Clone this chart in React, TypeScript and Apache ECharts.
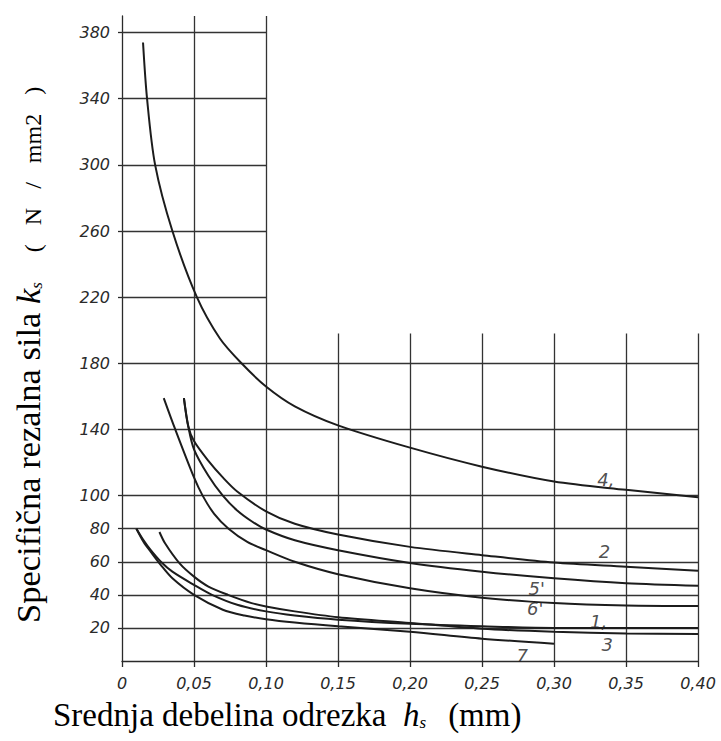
import React, { useEffect, useRef } from "react";
import * as echarts from "echarts";

// ---- data ----
const xTickValues = [0, 0.05, 0.1, 0.15, 0.2, 0.25, 0.3, 0.35, 0.4];
const xTickLabels = ["0", "0,05", "0,10", "0,15", "0,20", "0,25", "0,30", "0,35", "0,40"];
const yTickValues = [20, 40, 60, 80, 100, 140, 180, 220, 260, 300, 340, 380];
const yTickLabels = ["20", "40", "60", "80", "100", "140", "180", "220", "260", "300", "340", "380"];

const curve4X = [0.0146, 0.0174, 0.023, 0.035, 0.052, 0.068, 0.083, 0.1, 0.12, 0.15, 0.2, 0.25, 0.3, 0.35, 0.4];
const curve4Y = [374, 340, 300, 260, 220, 195, 180, 166, 154, 142.5, 129, 117.5, 108.5, 103.5, 99];

const curve2X = [0.043, 0.046, 0.05, 0.06, 0.07, 0.08, 0.1, 0.12, 0.15, 0.2, 0.25, 0.3, 0.35, 0.4];
const curve2Y = [159, 142, 133, 121, 111, 102.5, 90.5, 83, 76.5, 69, 64, 59.5, 57, 54.5];

const curve5X = [0.043, 0.046, 0.05, 0.06, 0.07, 0.08, 0.09, 0.1, 0.12, 0.15, 0.2, 0.25, 0.3, 0.35, 0.4];
const curve5Y = [159, 142, 128, 112, 100, 91, 84.5, 79.5, 73, 67, 59.3, 54, 50, 47, 45.5];

const curve6X = [0.029, 0.037, 0.05, 0.056, 0.064, 0.074, 0.087, 0.1, 0.12, 0.15, 0.2, 0.25, 0.3, 0.35, 0.4];
const curve6Y = [159, 140, 111, 100, 89, 80, 72, 67, 60, 52.5, 44, 38.3, 35, 33.5, 33.2];

const curve1X = [0.01, 0.015, 0.02, 0.027, 0.035, 0.05, 0.0625, 0.08, 0.1, 0.12, 0.15, 0.2, 0.25, 0.3, 0.35, 0.4];
const curve1Y = [80, 73, 67, 60, 54, 46, 40, 34, 30, 27.5, 25, 22.5, 21, 20, 20, 20];

const curve3X = [0.026, 0.03, 0.04, 0.05, 0.06, 0.0736, 0.09, 0.1, 0.12, 0.15, 0.2, 0.25, 0.3, 0.35, 0.4];
const curve3Y = [78, 71, 59, 51, 45, 40, 35, 33, 30, 26.5, 23, 19.5, 17.7, 16.7, 16.3];

const curve7X = [0.01, 0.015, 0.02, 0.027, 0.035, 0.05, 0.07, 0.085, 0.1, 0.12, 0.15, 0.2, 0.25, 0.3];
const curve7Y = [80, 72, 66, 58, 50, 40, 31, 27.5, 25.3, 23.3, 21, 17.7, 13.5, 10.5];

const curveLabelText = ["4,", "2", "5'", "6'", "1,", "3", "7"];
const curveLabelX = [0.336, 0.335, 0.288, 0.287, 0.331, 0.337, 0.278];
const curveLabelY = [110, 66, 44, 32, 23.6, 9.7, 3.6];

// grid segments
const hGridFull = [20, 40, 60, 80, 100, 140, 180];
const hGridShort = [220, 260, 300, 340, 380];
const vGridTall = [0.05, 0.1];
const vGridShort = [0.15, 0.2, 0.25, 0.3, 0.35, 0.4];
const xMax = 0.4;
const yMax = 390;
const shortHorizEnd = 0.1;
const shortVertTop = 198;

const zip = (xs: number[], ys: number[]) => xs.map((x, i) => [x, ys[i]]);

export default function App() {
  const ref = useRef<HTMLDivElement>(null);
  useEffect(() => {
    if (!ref.current) return;
    const chart = echarts.init(ref.current, null, { renderer: "svg" });

    const gridSegs: any[] = [];
    hGridFull.forEach((v) => gridSegs.push([{ coord: [0, v] }, { coord: [xMax, v] }]));
    hGridShort.forEach((v) => gridSegs.push([{ coord: [0, v] }, { coord: [shortHorizEnd, v] }]));
    vGridTall.forEach((v) => gridSegs.push([{ coord: [v, 0] }, { coord: [v, yMax] }]));
    vGridShort.forEach((v) => gridSegs.push([{ coord: [v, 0] }, { coord: [v, shortVertTop] }]));

    const curveStyle = { color: "#1c1c1c", width: 2 };
    const mk = (xs: number[], ys: number[], extra: any = {}) => ({
      type: "line",
      data: zip(xs, ys),
      showSymbol: false,
      symbol: "none",
      smooth: 0.3,
      lineStyle: curveStyle,
      silent: true,
      z: 3,
      ...extra,
    });

    const tickFont = {
      fontFamily: "DejaVu Sans",
      fontStyle: "italic",
      fontSize: 16,
      color: "#2a2a2a",
    };
    const serif = "Liberation Serif";
    const tc = "#333";

    chart.setOption({
      animation: false,
      backgroundColor: "#ffffff",
      grid: { left: 122, right: 23, top: 16, bottom: 80, containLabel: false },
      xAxis: {
        type: "value",
        min: 0,
        max: xMax,
        interval: 0.05,
        axisLine: { show: true, lineStyle: { color: "#2a2a2a", width: 1.3 } },
        axisTick: {
          show: true,
          length: 6,
          customValues: xTickValues,
          lineStyle: { color: "#2a2a2a", width: 1.3 },
        },
        splitLine: { show: false },
        axisLabel: {
          ...tickFont,
          margin: 14,
          customValues: xTickValues,
          formatter: (v: number) => xTickLabels[Math.round(v / 0.05)] ?? "",
        },
      },
      yAxis: {
        type: "value",
        min: 0,
        max: yMax,
        axisLine: { show: true, lineStyle: { color: "#2a2a2a", width: 1.3 } },
        axisTick: {
          show: true,
          length: 4,
          customValues: yTickValues,
          lineStyle: { color: "#2a2a2a", width: 1.3 },
        },
        splitLine: { show: false },
        axisLabel: {
          ...tickFont,
          margin: 12,
          customValues: yTickValues,
          formatter: (v: number) => {
            const i = yTickValues.indexOf(Math.round(v));
            return i >= 0 ? yTickLabels[i] : "";
          },
        },
      },
      series: [
        mk(curve4X, curve4Y, {
          markLine: {
            silent: true,
            symbol: ["none", "none"],
            label: { show: false },
            lineStyle: { color: "#333333", width: 1.3, type: "solid" },
            data: gridSegs,
            z: 1,
          },
        }),
        mk(curve2X, curve2Y),
        mk(curve5X, curve5Y),
        mk(curve6X, curve6Y),
        mk(curve1X, curve1Y),
        mk(curve3X, curve3Y),
        mk(curve7X, curve7Y),
        {
          type: "scatter",
          data: curveLabelX.map((x, i) => ({ value: [x, curveLabelY[i]], name: curveLabelText[i] })),
          symbolSize: 1,
          itemStyle: { color: "transparent" },
          silent: true,
          z: 5,
          label: {
            show: true,
            position: "inside",
            formatter: (p: any) => p.name,
            fontFamily: "DejaVu Sans",
            fontStyle: "italic",
            fontSize: 18,
            color: "#222",
          },
        },
      ],
      graphic: [
        {
          type: "text",
          left: 53,
          top: 698,
          style: {
            text: "{a|Srednja debelina odrezka  }{h|h}{s|s}{b|(mm)}",
            rich: {
              a: { fontFamily: serif, fontSize: 33, color: tc, lineHeight: 36, verticalAlign: "bottom" },
              b: { fontFamily: serif, fontSize: 33, color: tc, lineHeight: 36, verticalAlign: "bottom", padding: [0, 0, 0, 22] },
              h: { fontFamily: serif, fontStyle: "italic", fontSize: 33, color: tc, lineHeight: 36, verticalAlign: "bottom" },
              s: { fontFamily: serif, fontStyle: "italic", fontSize: 17, color: tc, lineHeight: 14, verticalAlign: "bottom" },
            },
          },
        },
        {
          type: "text",
          x: 27,
          y: 623,
          rotation: Math.PI / 2,
          style: {
            text: "{a|Specifična rezalna sila }{k|k}{s|s}{p|(}{n|N}{n|/}{n|mm2}{n|)}",
            align: "left",
            verticalAlign: "middle",
            rich: {
              a: { fontFamily: serif, fontSize: 34.5, color: tc, lineHeight: 36, verticalAlign: "bottom" },
              k: { fontFamily: serif, fontStyle: "italic", fontSize: 34.5, color: tc, lineHeight: 36, verticalAlign: "bottom" },
              s: { fontFamily: serif, fontStyle: "italic", fontSize: 17, color: tc, lineHeight: 16, verticalAlign: "bottom" },
              p: { fontFamily: serif, fontSize: 24, color: tc, lineHeight: 30, verticalAlign: "bottom", padding: [0, 0, 0, 30] },
              n: { fontFamily: serif, fontSize: 24, color: tc, lineHeight: 30, verticalAlign: "bottom", padding: [0, 0, 0, 19] },
            },
          },
        },
      ],
    });
    return () => chart.dispose();
  }, []);
  return (
    <div
      ref={ref}
      style={{ position: "absolute", left: 0, top: 0, width: 721, height: 741 }}
    />
  );
}
